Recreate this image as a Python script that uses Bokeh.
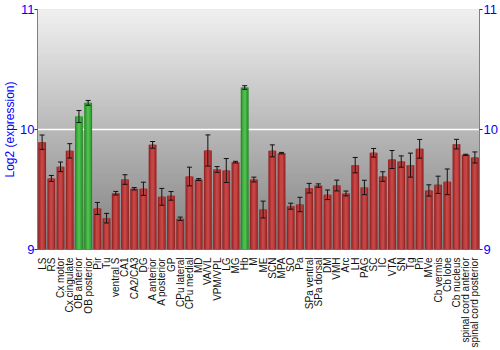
import math
from bokeh.plotting import figure
from bokeh.models import (ColumnDataSource, FactorRange, Range1d, LinearAxis,
                          FixedTicker, Whisker, TeeHead, BoxAnnotation)
from bokeh.embed import file_html
from bokeh.resources import INLINE

labels = ["LS", "RS", "Cx motor", "Cx cingulate", "OB anterior", "OB posterior",
          "Pir", "Tu", "ventral S", "CA1", "CA2/CA3", "DG", "A anterior",
          "A posterior", "GP", "CPu lateral", "CPu medial", "MD", "VA/VL",
          "VPM/VPL", "LG", "MG", "Hb", "M", "ME", "SCN", "MPA", "SO", "Pa",
          "SPa ventral", "SPa dorsal", "DM", "VMH", "Arc", "LH", "PAG", "SC",
          "IC", "VTA", "SN", "Tg", "Pn", "MVe", "Cb vermis", "Cb lobe",
          "Cb nucleus", "spinal cord anterior", "spinal cord posterior"]
values = [9.894, 9.592, 9.689, 9.822, 10.108, 10.222,
          9.342, 9.261, 9.469, 9.583, 9.506, 9.506, 9.872,
          9.439, 9.447, 9.256, 9.608, 9.583, 9.825,
          9.667, 9.658, 9.728, 10.350, 9.583, 9.333, 9.822, 9.803, 9.361, 9.375,
          9.511, 9.533, 9.456, 9.533, 9.467, 9.703, 9.517, 9.806,
          9.608, 9.750, 9.733, 9.703, 9.839, 9.492, 9.539, 9.564,
          9.878, 9.789, 9.767]
errors = [0.060, 0.025, 0.040, 0.060, 0.050, 0.020,
          0.050, 0.040, 0.015, 0.040, 0.010, 0.055, 0.028,
          0.070, 0.036, 0.014, 0.078, 0.008, 0.130,
          0.024, 0.100, 0.007, 0.015, 0.020, 0.070, 0.050, 0.006, 0.025, 0.060,
          0.040, 0.014, 0.040, 0.045, 0.020, 0.064, 0.060, 0.036,
          0.040, 0.075, 0.047, 0.100, 0.078, 0.047, 0.072, 0.107,
          0.040, 0.005, 0.046]
highlighted = ["OB anterior", "OB posterior", "Hb"]
y_ticks = [9, 10, 11]

y_min, y_max = 9, 11

edge_col = ["#2b8a2b" if l in highlighted else "#952626" for l in labels]
mid_col = ["#3aa83a" if l in highlighted else "#b33535" for l in labels]
hi_col = ["#4cbf4c" if l in highlighted else "#c64646" for l in labels]

src = ColumnDataSource(dict(
    labels=labels, values=values,
    upper=[v + e for v, e in zip(values, errors)],
    lower=[v - e for v, e in zip(values, errors)],
    edge=edge_col, mid=mid_col, hi=hi_col,
))

p = figure(width=500, height=350, x_range=FactorRange(*labels, range_padding=0),
           y_range=Range1d(y_min, y_max), output_backend="svg",
           toolbar_location=None, min_border_left=34, min_border_right=19,
           min_border_top=9, min_border_bottom=100)
p.background_fill_color = "white"
p.border_fill_color = "white"
p.outline_line_color = "#808080"

# vertical gray gradient background (nested boxes, no seams)
n = 80
for i in range(n):
    b = y_min + (y_max - y_min) * i / n
    frac = (i + 0.5) / n
    g = int(round(128 + (240 - 128) * frac))
    p.add_layout(BoxAnnotation(bottom=b, top=y_max, fill_color=(g, g, g),
                               fill_alpha=1, line_color=None, level="image"))

p.vbar(x="labels", top="values", bottom=y_min, width=0.86, source=src,
       fill_color="edge", line_color=None)
p.vbar(x="labels", top="values", bottom=y_min, width=0.6, source=src,
       fill_color="mid", line_color=None)
p.vbar(x="labels", top="values", bottom=y_min, width=0.3, source=src,
       fill_color="hi", line_color=None)

w = Whisker(base="labels", upper="upper", lower="lower", source=src,
            line_color="#111111", line_width=1, level="annotation",
            upper_head=TeeHead(size=5, line_color="#111111", line_width=1),
            lower_head=TeeHead(size=5, line_color="#111111", line_width=1))
p.add_layout(w)

p.xgrid.grid_line_color = None
p.ygrid.ticker = FixedTicker(ticks=[10])
p.ygrid.grid_line_color = "white"
p.ygrid.grid_line_width = 1.5

# left axis
ya = p.yaxis[0]
ya.ticker = FixedTicker(ticks=y_ticks)
ya.axis_label = "Log2 (expression)"
ya.axis_label_text_color = "#0000ff"
ya.axis_label_text_font = "Liberation Sans"
ya.axis_label_text_font_style = "normal"
ya.axis_label_text_font_size = "12px"
ya.axis_label_standoff = 0
ya.major_label_text_color = "#0000ff"
ya.major_label_text_font = "Liberation Sans"
ya.major_label_text_font_size = "13px"
ya.major_label_standoff = 0
ya.major_tick_out = 3
ya.major_tick_in = 0
ya.minor_tick_line_color = None
ya.axis_line_color = "#808080"
ya.major_tick_line_color = "#333333"

ra = LinearAxis(ticker=FixedTicker(ticks=y_ticks))
ra.major_label_text_color = "#0000ff"
ra.major_label_text_font = "Liberation Sans"
ra.major_label_text_font_size = "13px"
ra.major_label_standoff = 1
ra.major_tick_out = 3
ra.major_tick_in = 0
ra.minor_tick_line_color = None
ra.axis_line_color = "#808080"
ra.major_tick_line_color = "#333333"
p.add_layout(ra, "right")

xa = p.xaxis[0]
xa.major_label_orientation = math.pi / 2
xa.major_label_text_font = "Liberation Sans"
xa.major_label_text_font_size = "10px"
xa.major_label_text_color = "#111111"
xa.major_label_standoff = 2
xa.major_tick_line_color = None
xa.axis_line_color = None
xa.minor_tick_line_color = None

open("out.html", "w").write(file_html(p, INLINE))
